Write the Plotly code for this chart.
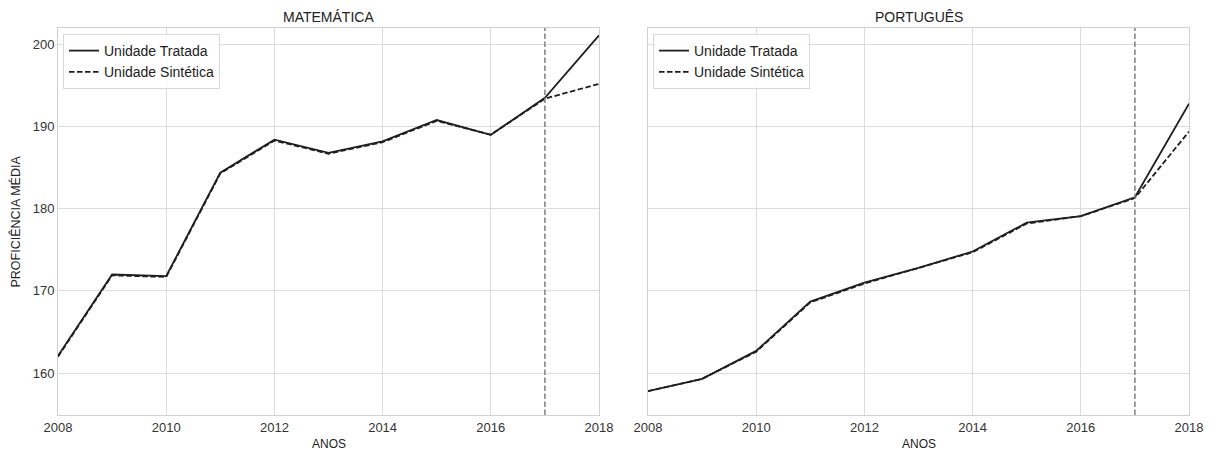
import plotly.graph_objects as go

years = [2008, 2009, 2010, 2011, 2012, 2013, 2014, 2015, 2016, 2017, 2018]

mat_tratada = [162.1, 172.0, 171.8, 184.4, 188.4, 186.8, 188.2, 190.8, 189.0, 193.5, 201.1]
mat_sintetica = [162.0, 171.9, 171.7, 184.3, 188.3, 186.7, 188.1, 190.7, 189.0, 193.4, 195.2]

por_tratada = [157.8, 159.3, 162.7, 168.7, 171.0, 172.8, 174.8, 178.3, 179.1, 181.4, 192.8]
por_sintetica = [157.8, 159.3, 162.6, 168.6, 170.9, 172.8, 174.7, 178.2, 179.1, 181.3, 189.4]

panel_titles = ["MATEMÁTICA", "PORTUGUÊS"]
series_names = ["Unidade Tratada", "Unidade Sintética"]
y_ticks = [160, 170, 180, 190, 200]
x_ticks = [2008, 2010, 2012, 2014, 2016, 2018]
treat_year = 2017

W, H = 1215, 452
FONT = "Liberation Sans, Arial, sans-serif"
LINE = "#1f1f1f"
GRID = "#dcdcdc"
SPINE = "#d0d0d0"
TXT = "#333333"
DASH = "5.5px,2.5px"

fig = go.Figure()

panels = [(mat_tratada, mat_sintetica, "x", "y", "legend"),
          (por_tratada, por_sintetica, "x2", "y2", "legend2")]
for trat, sint, xa, ya, lg in panels:
    fig.add_trace(go.Scatter(x=years, y=trat, mode="lines", name=series_names[0],
                             line=dict(color=LINE, width=1.8), xaxis=xa, yaxis=ya, legend=lg))
    fig.add_trace(go.Scatter(x=years, y=sint, mode="lines", name=series_names[1],
                             line=dict(color=LINE, width=1.8, dash=DASH), xaxis=xa, yaxis=ya, legend=lg))

left_dom = [58 / W, 599 / W]
right_dom = [648 / W, 1189 / W]
y_dom = [1 - 415 / H, 1 - 28 / H]
y_range = [154.9, 202.0]

axis_common = dict(showgrid=True, gridcolor=GRID, gridwidth=1, zeroline=False,
                   showline=True, linecolor=SPINE, linewidth=1, mirror=True,
                   ticks="", automargin=False,
                   tickfont=dict(family=FONT, size=13, color=TXT))

fig.update_layout(
    width=W, height=H,
    margin=dict(l=0, r=0, t=0, b=0),
    paper_bgcolor="white", plot_bgcolor="white",
    font=dict(family=FONT, color=TXT),
    xaxis=dict(domain=left_dom, range=[2008, 2018], tickvals=x_ticks, anchor="y", **axis_common),
    yaxis=dict(domain=y_dom, range=y_range, tickvals=y_ticks, anchor="x", **axis_common),
    xaxis2=dict(domain=right_dom, range=[2008, 2018], tickvals=x_ticks, anchor="y2", **axis_common),
    yaxis2=dict(domain=y_dom, range=y_range, tickvals=y_ticks, anchor="x2",
                showticklabels=False, **axis_common),
    legend=dict(x=63 / W, y=1 - 34 / H, xanchor="left", yanchor="top",
                bgcolor="rgba(255,255,255,0.85)", bordercolor="#d8d8d8", borderwidth=1,
                font=dict(family=FONT, size=14, color="#222222"), tracegroupgap=0,
                itemwidth=30),
    legend2=dict(x=653 / W, y=1 - 34 / H, xanchor="left", yanchor="top",
                 bgcolor="rgba(255,255,255,0.85)", bordercolor="#d8d8d8", borderwidth=1,
                 font=dict(family=FONT, size=14, color="#222222"), tracegroupgap=0,
                 itemwidth=30),
    showlegend=True,
)

for xref, yref in [("x", "y"), ("x2", "y2")]:
    fig.add_shape(type="line", xref=xref, yref=f"{yref} domain", x0=treat_year, x1=treat_year,
                  y0=0, y1=1, line=dict(color="#808080", width=1.5, dash=DASH))

centers = [(left_dom[0] + left_dom[1]) / 2, (right_dom[0] + right_dom[1]) / 2]
for t, cx in zip(panel_titles, centers):
    fig.add_annotation(text=t, x=cx, y=1 - 17 / H, xref="paper", yref="paper",
                       showarrow=False, xanchor="center", yanchor="middle",
                       font=dict(family=FONT, size=14, color="#222222"))
    fig.add_annotation(text="ANOS", x=cx, y=1 - 444 / H, xref="paper", yref="paper",
                       showarrow=False, xanchor="center", yanchor="middle",
                       font=dict(family=FONT, size=12, color="#222222"))

fig.add_annotation(text="PROFICIÊNCIA MÉDIA", x=15 / W, y=(y_dom[0] + y_dom[1]) / 2,
                   xref="paper", yref="paper", showarrow=False, textangle=-90,
                   xanchor="center", yanchor="middle",
                   font=dict(family=FONT, size=12.5, color="#222222"))

fig.write_html("out.html")
